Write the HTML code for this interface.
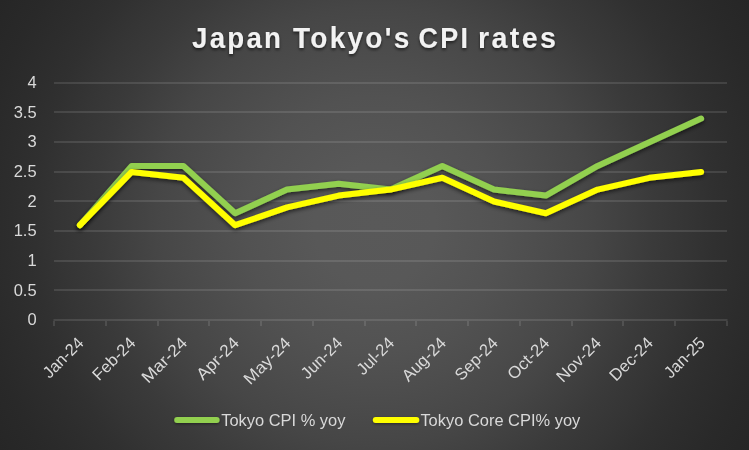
<!DOCTYPE html>
<html><head><meta charset="utf-8"><title>Japan Tokyo's CPI rates</title>
<style>html,body{margin:0;padding:0;background:#262626;}body{width:749px;height:450px;overflow:hidden;font-family:"Liberation Sans",sans-serif;}
#c{position:relative;width:749px;height:450px;background:radial-gradient(circle 437px at 374.5px 225px, #595959 0px, #585858 60px, #545454 105px, #525252 128px, #4e4e4e 160px, #4a4a4a 190px, #464646 219px, #404040 250px, #3a3a3a 280px, #353535 312px, #303030 340px, #2d2d2d 364px, #292929 400px, #272727 425px, #262626 437px);}
svg{position:absolute;left:0;top:0;}text{font-family:"Liberation Sans",sans-serif;}</style></head><body><div id="c">
<svg width="749" height="450" viewBox="0 0 749 450">
<defs><filter id="sh" filterUnits="userSpaceOnUse" x="0" y="0" width="749" height="450"><feDropShadow dx="0" dy="2" stdDeviation="2.2" flood-color="#000" flood-opacity="0.6"/></filter>
<filter id="ls" filterUnits="userSpaceOnUse" x="0" y="0" width="749" height="450"><feDropShadow dx="0" dy="1" stdDeviation="1.6" flood-color="#000" flood-opacity="0.45"/></filter><filter id="ts" filterUnits="userSpaceOnUse" x="0" y="0" width="749" height="450"><feDropShadow dx="0" dy="2" stdDeviation="1.6" flood-color="#000" flood-opacity="0.55"/></filter></defs>
<g fill="#fff" fill-opacity="0.225">
<rect x="54.0" y="289.50" width="673.0" height="1"/>
<rect x="54.0" y="260.50" width="673.0" height="1"/>
<rect x="54.0" y="230.50" width="673.0" height="1"/>
<rect x="54.0" y="200.50" width="673.0" height="1"/>
<rect x="54.0" y="171.50" width="673.0" height="1"/>
<rect x="54.0" y="141.50" width="673.0" height="1"/>
<rect x="54.0" y="111.50" width="673.0" height="1"/>
<rect x="54.0" y="82.50" width="673.0" height="1"/>
</g>
<g fill="#fff" fill-opacity="0.225">
<rect x="53.5" y="319.50" width="674.0" height="1"/>
<rect x="53.50" y="321.00" width="1" height="5"/>
<rect x="105.50" y="321.00" width="1" height="5"/>
<rect x="157.50" y="321.00" width="1" height="5"/>
<rect x="208.50" y="321.00" width="1" height="5"/>
<rect x="260.50" y="321.00" width="1" height="5"/>
<rect x="312.50" y="321.00" width="1" height="5"/>
<rect x="364.50" y="321.00" width="1" height="5"/>
<rect x="415.50" y="321.00" width="1" height="5"/>
<rect x="467.50" y="321.00" width="1" height="5"/>
<rect x="519.50" y="321.00" width="1" height="5"/>
<rect x="571.50" y="321.00" width="1" height="5"/>
<rect x="622.50" y="321.00" width="1" height="5"/>
<rect x="674.50" y="321.00" width="1" height="5"/>
<rect x="726.50" y="321.00" width="1" height="5"/>
</g>
<polyline points="79.9,225.2 131.7,165.9 183.4,165.9 235.2,213.3 287.0,189.6 338.7,183.7 390.5,189.6 442.3,165.9 494.0,189.6 545.8,195.6 597.6,165.9 649.3,142.2 701.1,118.6" fill="none" stroke="#92d050" stroke-width="6" stroke-linecap="round" stroke-linejoin="round" filter="url(#sh)"/>
<polyline points="79.9,225.2 131.7,171.9 183.4,177.8 235.2,225.2 287.0,207.4 338.7,195.6 390.5,189.6 442.3,177.8 494.0,201.5 545.8,213.3 597.6,189.6 649.3,177.8 701.1,171.9" fill="none" stroke="#ffff00" stroke-width="6" stroke-linecap="round" stroke-linejoin="round" filter="url(#sh)"/>
<g filter="url(#ts)" font-size="29.90" font-weight="bold" fill="#f2f2f2">
<text class="tw" x="192.00" y="48.00" textLength="91.20" lengthAdjust="spacingAndGlyphs" letter-spacing="2.40">Japan</text>
<text class="tw" x="293.00" y="48.00" textLength="118.50" lengthAdjust="spacingAndGlyphs" letter-spacing="2.40">Tokyo's</text>
<text class="tw" x="418.60" y="48.00" textLength="51.45" lengthAdjust="spacingAndGlyphs" letter-spacing="2.40">CPI</text>
<text class="tw" x="478.00" y="48.00" textLength="80.20" lengthAdjust="spacingAndGlyphs" letter-spacing="2.40">rates</text>
</g>
<g font-size="16.50" fill="#d9d9d9" text-anchor="end" opacity="0.999">
<text class="yl" x="36.6" y="325.30">0</text>
<text class="yl" x="36.6" y="295.65">0.5</text>
<text class="yl" x="36.6" y="266.00">1</text>
<text class="yl" x="36.6" y="236.35">1.5</text>
<text class="yl" x="36.6" y="206.70">2</text>
<text class="yl" x="36.6" y="177.05">2.5</text>
<text class="yl" x="36.6" y="147.40">3</text>
<text class="yl" x="36.6" y="117.75">3.5</text>
<text class="yl" x="36.6" y="88.10">4</text>
</g>
<g font-size="16.60" fill="#d9d9d9" text-anchor="end" opacity="0.999">
<text class="xl" transform="translate(84.68,344.00) rotate(-45)" x="0" y="0" textLength="49.9" lengthAdjust="spacingAndGlyphs">Jan-24</text>
<text class="xl" transform="translate(136.45,344.00) rotate(-45)" x="0" y="0" textLength="52.9" lengthAdjust="spacingAndGlyphs">Feb-24</text>
<text class="xl" transform="translate(188.22,344.00) rotate(-45)" x="0" y="0" textLength="56.7" lengthAdjust="spacingAndGlyphs">Mar-24</text>
<text class="xl" transform="translate(239.99,344.00) rotate(-45)" x="0" y="0" textLength="52.4" lengthAdjust="spacingAndGlyphs">Apr-24</text>
<text class="xl" transform="translate(291.76,344.00) rotate(-45)" x="0" y="0" textLength="58.6" lengthAdjust="spacingAndGlyphs">May-24</text>
<text class="xl" transform="translate(343.53,344.00) rotate(-45)" x="0" y="0" textLength="50.8" lengthAdjust="spacingAndGlyphs">Jun-24</text>
<text class="xl" transform="translate(395.30,344.00) rotate(-45)" x="0" y="0" textLength="45.3" lengthAdjust="spacingAndGlyphs">Jul-24</text>
<text class="xl" transform="translate(447.07,344.00) rotate(-45)" x="0" y="0" textLength="54.6" lengthAdjust="spacingAndGlyphs">Aug-24</text>
<text class="xl" transform="translate(498.84,344.00) rotate(-45)" x="0" y="0" textLength="52.9" lengthAdjust="spacingAndGlyphs">Sep-24</text>
<text class="xl" transform="translate(550.61,344.00) rotate(-45)" x="0" y="0" textLength="51.8" lengthAdjust="spacingAndGlyphs">Oct-24</text>
<text class="xl" transform="translate(602.38,344.00) rotate(-45)" x="0" y="0" textLength="55.6" lengthAdjust="spacingAndGlyphs">Nov-24</text>
<text class="xl" transform="translate(654.15,344.00) rotate(-45)" x="0" y="0" textLength="53.9" lengthAdjust="spacingAndGlyphs">Dec-24</text>
<text class="xl" transform="translate(705.92,344.00) rotate(-45)" x="0" y="0" textLength="49.9" lengthAdjust="spacingAndGlyphs">Jan-25</text>
</g>
<line x1="177.2" y1="420" x2="216.6" y2="420" stroke="#92d050" stroke-width="6" stroke-linecap="round" filter="url(#ls)"/>
<text id="l1" opacity="0.999" x="221.2" y="425.9" font-size="16.45" fill="#d9d9d9">Tokyo CPI % yoy</text>
<line x1="375.8" y1="420" x2="416.3" y2="420" stroke="#ffff00" stroke-width="6" stroke-linecap="round" filter="url(#ls)"/>
<text id="l2" opacity="0.999" x="420.4" y="425.9" font-size="16.45" fill="#d9d9d9">Tokyo Core CPI% yoy</text>
</svg></div></body></html>
